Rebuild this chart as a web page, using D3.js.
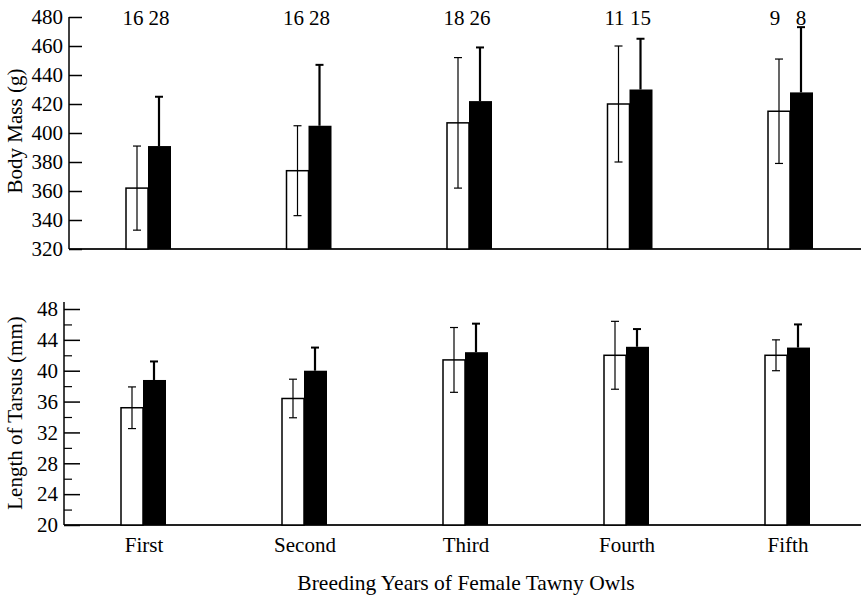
<!DOCTYPE html>
<html>
<head>
<meta charset="utf-8">
<script src="https://cdn.jsdelivr.net/npm/d3@7"></script>
<style>
  body { margin: 0; background: #fff; }
  svg text { font-family: 'Liberation Serif', 'Times New Roman', Times, 'DejaVu Serif', serif !important; fill: #000; }
</style>
</head>
<body>
<svg id="chart" width="861" height="596" font-family="Liberation Serif, DejaVu Serif, serif"></svg>
<script>
'use strict'

const years = ['First', 'Second', 'Third', 'Fourth', 'Fifth']

// sample sizes (white, black)
const nWhite = [16, 16, 18, 11, 9]
const nBlack = [28, 28, 26, 15, 8]

// body mass (g): means and SD
const massWhite = [362, 374, 407, 420, 415]
const massWhiteSd = [29, 31, 45, 40, 36]
const massBlack = [391, 405, 422, 430, 428]
const massBlackSd = [34, 42, 37, 35, 45]

// tarsus length (mm)
const tarsWhite = [35.2, 36.4, 41.4, 42.0, 42.0]
const tarsWhiteSd = [2.7, 2.5, 4.2, 4.4, 2.0]
const tarsBlack = [38.8, 40.0, 42.4, 43.1, 43.0]
const tarsBlackSd = [2.4, 3.0, 3.7, 2.3, 3.0]

const massTicks = [320, 340, 360, 380, 400, 420, 440, 460, 480]
const tarsTicks = [20, 24, 28, 32, 36, 40, 44, 48]
const tarsMinor = [22, 26, 30, 34, 38, 42, 46]

const svg = d3.select('#chart')
const barW = 22
const fontSize = '21px'

function panel(opt) {
    const x = d3.scaleBand()
        .domain(years)
        .range([opt.x0, opt.x0 + 5 * opt.step])
    const y = d3.scaleLinear()
        .domain(opt.domain)
        .range([opt.bottom, opt.top])
    const cx = d => x(d) + x.bandwidth() / 2

    const g = svg.append('g')

    // baseline
    g.append('line')
        .attr('x1', opt.axisX).attr('x2', 861)
        .attr('y1', y(opt.domain[0])).attr('y2', y(opt.domain[0]))
        .style('stroke', '#222').style('stroke-width', 2)

    // white bars
    g.selectAll('.wbar').data(years).enter().append('rect')
        .attr('x', d => cx(d) - barW)
        .attr('y', (d, i) => y(opt.white[i]))
        .attr('width', barW)
        .attr('height', (d, i) => y(opt.domain[0]) - y(opt.white[i]))
        .style('fill', '#fff').style('stroke', '#000').style('stroke-width', 1.5)

    // white error bars (both sides)
    years.forEach((d, i) => {
        const ex = cx(d) - barW / 2
        const hi = y(opt.white[i] + opt.whiteSd[i])
        const lo = y(opt.white[i] - opt.whiteSd[i])
        g.append('line').attr('x1', ex).attr('x2', ex).attr('y1', hi).attr('y2', lo)
            .style('stroke', '#000').style('stroke-width', 1.2)
        g.append('line').attr('x1', ex - 4).attr('x2', ex + 4).attr('y1', hi).attr('y2', hi)
            .style('stroke', '#000').style('stroke-width', 1.2)
        g.append('line').attr('x1', ex - 4).attr('x2', ex + 4).attr('y1', lo).attr('y2', lo)
            .style('stroke', '#000').style('stroke-width', 1.2)
    })

    // black bars
    g.selectAll('.bbar').data(years).enter().append('rect')
        .attr('x', d => cx(d))
        .attr('y', (d, i) => y(opt.black[i]))
        .attr('width', barW + 1)
        .attr('height', (d, i) => y(opt.domain[0]) - y(opt.black[i]))
        .style('fill', '#000')

    // black error bars (upper only)
    years.forEach((d, i) => {
        const ex = cx(d) + barW / 2
        const hi = y(opt.black[i] + opt.blackSd[i])
        g.append('line').attr('x1', ex).attr('x2', ex).attr('y1', hi).attr('y2', y(opt.black[i]))
            .style('stroke', '#000').style('stroke-width', 2.2)
        g.append('line').attr('x1', ex - 4).attr('x2', ex + 4).attr('y1', hi).attr('y2', hi)
            .style('stroke', '#000').style('stroke-width', 2)
    })

    // y axis, ticks pointing inward
    const axis = d3.axisLeft(y)
        .tickValues(opt.ticks)
        .tickSizeInner(-opt.tickLen)
        .tickSizeOuter(0)
        .tickPadding(6)
    const ag = g.append('g')
        .attr('transform', `translate(${opt.axisX},0)`)
        .call(axis)
        .attr('font-family', null)
        .attr('font-size', null)
    ag.select('.domain').remove()
    ag.selectAll('line').style('stroke', '#000').style('stroke-width', 1.5)
    ag.selectAll('text').style('font-size', fontSize)

    if (opt.minor) {
        const mg = g.append('g')
            .attr('transform', `translate(${opt.axisX},0)`)
            .call(d3.axisLeft(y).tickValues(opt.minor).tickSizeInner(-8).tickSizeOuter(0).tickFormat(''))
        mg.select('.domain').remove()
        mg.selectAll('line').style('stroke', '#000').style('stroke-width', 1.2)
    }

    g.append('line')
        .attr('x1', opt.axisX).attr('x2', opt.axisX)
        .attr('y1', opt.top - opt.axisExtra).attr('y2', opt.bottom)
        .style('stroke', '#000').style('stroke-width', 1.5)

    // y title
    g.append('text')
        .attr('transform', `translate(22,${opt.titleY}) rotate(-90)`)
        .attr('text-anchor', 'middle')
        .style('font-size', fontSize)
        .text(opt.title)

    return { x, y, cx }
}

const massPanel = panel({
    x0: 67.75, step: 160.5, axisX: 69, top: 17, bottom: 249, axisExtra: 0,
    domain: [320, 480], ticks: massTicks, tickLen: 13,
    white: massWhite, whiteSd: massWhiteSd, black: massBlack, blackSd: massBlackSd,
    title: 'Body Mass (g)', titleY: 131
})

// sample sizes above top panel
svg.selectAll('.nw').data(years).enter().append('text')
    .attr('x', d => massPanel.cx(d) - barW / 2 - 4)
    .attr('y', 25)
    .attr('text-anchor', 'middle')
    .style('font-size', fontSize)
    .text((d, i) => nWhite[i])
svg.selectAll('.nb').data(years).enter().append('text')
    .attr('x', d => massPanel.cx(d) + barW / 2)
    .attr('y', 25)
    .attr('text-anchor', 'middle')
    .style('font-size', fontSize)
    .text((d, i) => nBlack[i])

const tarsPanel = panel({
    x0: 62.5, step: 161, axisX: 64, top: 309, bottom: 525, axisExtra: 7,
    domain: [20, 48], ticks: tarsTicks, minor: tarsMinor, tickLen: 16,
    white: tarsWhite, whiteSd: tarsWhiteSd, black: tarsBlack, blackSd: tarsBlackSd,
    title: 'Length of Tarsus (mm)', titleY: 413
})

// category labels
svg.selectAll('.xl').data(years).enter().append('text')
    .attr('x', d => tarsPanel.cx(d) + 1)
    .attr('y', 552)
    .attr('text-anchor', 'middle')
    .style('font-size', fontSize)
    .text(d => d)

svg.append('text')
    .attr('x', 466)
    .attr('y', 590)
    .attr('text-anchor', 'middle')
    .style('font-size', '21.5px')
    .text('Breeding Years of Female Tawny Owls')
</script>
</body>
</html>
